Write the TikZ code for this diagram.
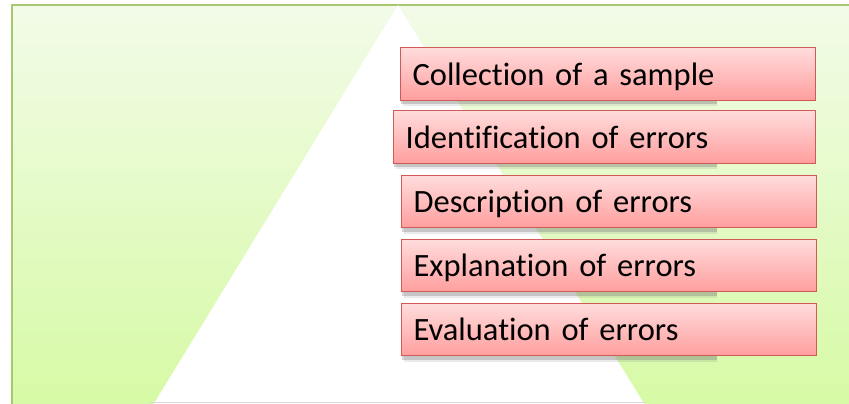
\documentclass[tikz,border=0pt]{standalone}
\usepackage{fontspec}
\setmainfont[Ligatures={NoCommon}]{Carlito}
\definecolor{bgtop}{HTML}{F2FBE8}
\definecolor{bgbot}{HTML}{D6FAA4}
\definecolor{bgline}{HTML}{A9C76E}
\definecolor{boxtop}{HTML}{FFDCDC}
\definecolor{boxbot}{HTML}{FF9E9E}
\definecolor{boxline}{HTML}{CF5A58}
\tikzset{
  stepbox/.style={rectangle, draw=boxline, line width=1.2pt, top color=boxtop, bottom color=boxbot,
    minimum height=53pt, anchor=north west, align=left, text width=391pt, inner xsep=12pt,
    text depth=0pt, font=\fontsize{32.5}{32.5}\selectfont, text=black},
  under/.style={fill=black!55, opacity=0.3},
}
\begin{document}
\begin{tikzpicture}[x=1pt,y=-1pt]
\useasboundingbox (0,0) rectangle (849,404);
\begin{scope}
\clip (0,0) rectangle (849,404);
\shade[top color=bgtop, bottom color=bgbot] (12,5) rectangle (860,410);
\draw[bgline, line width=1.5pt] (12,410) -- (12,5) -- (860,5);
\fill[white] (398,5) -- (150,410) -- (648,410) -- cycle;
\draw[black!15, line width=0.6pt] (150,402.5) -- (645,402.5);
\end{scope}
% shadows behind the boxes
\foreach \t/\l in {47/400,110/393,175/401,239/401,303/401}{
  \fill[under] (\l+1,\t+6) rectangle (717,\t+57);
  \fill[under, opacity=0.15] (\l+3,\t+6) rectangle (717,\t+58.5);
}
\node[stepbox, minimum width=415pt] (b1) at (400,47) {Collection of a sample};
\node[stepbox, minimum width=422pt, text width=398pt] (b2) at (393,110) {Identification of errors};
\node[stepbox, minimum width=414pt, minimum height=52pt] (b3) at (401,175) {Description of errors};
\node[stepbox, minimum width=414pt, minimum height=52pt] (b4) at (401,239) {Explanation of errors};
\node[stepbox, minimum width=414pt, minimum height=52pt] (b5) at (401,303) {Evaluation of errors};
\end{tikzpicture}
\end{document}
